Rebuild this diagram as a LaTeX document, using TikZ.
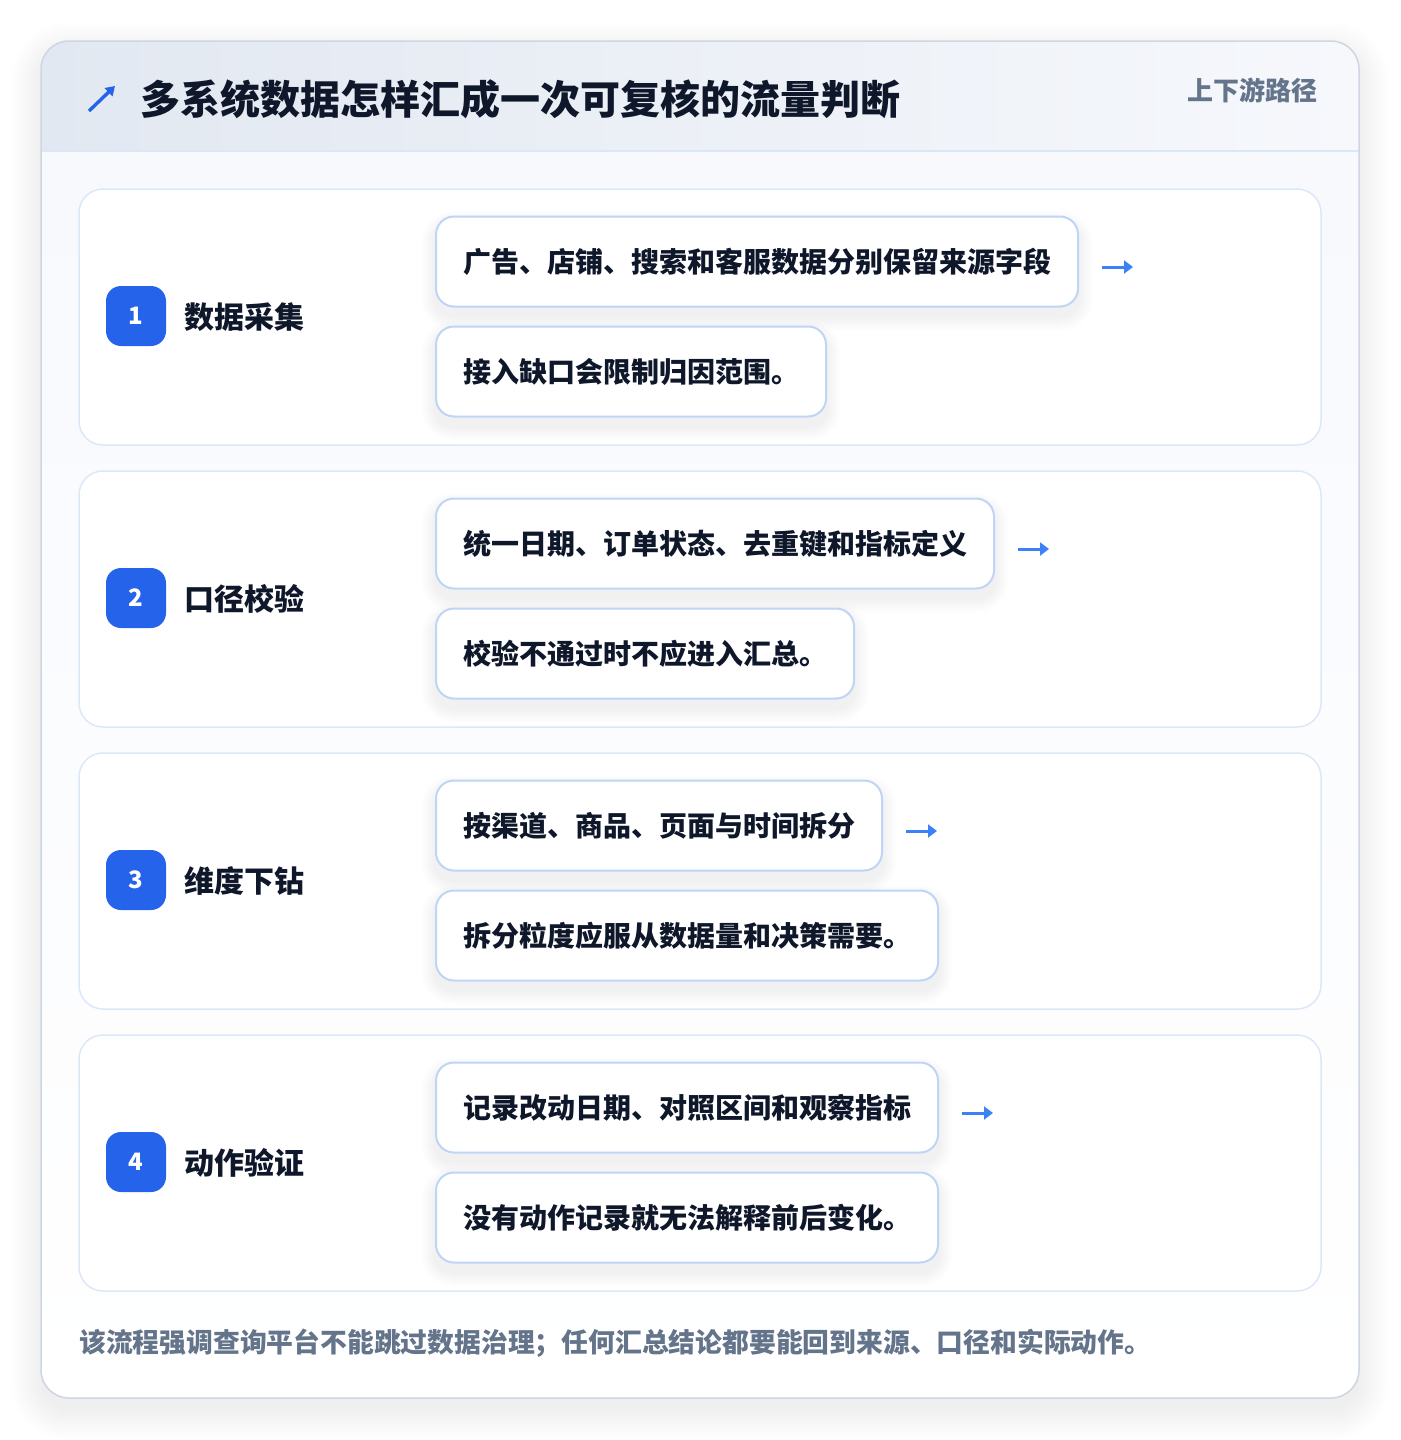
\documentclass[tikz,border=0pt]{standalone}
\usepackage{fontspec}
\setmainfont{Noto Sans CJK SC}
\usetikzlibrary{arrows.meta}
\definecolor{ink}{HTML}{0F172A}
\definecolor{muted}{HTML}{64748B}
\definecolor{accent}{HTML}{2563EB}
\definecolor{flowblue}{HTML}{3B82F6}
\definecolor{cardborder}{HTML}{CDD6E2}
\definecolor{hdrL}{HTML}{E2E8F1}
\definecolor{hdrR}{HTML}{F6F8FC}
\definecolor{hdrline}{HTML}{DBE7F7}
\definecolor{bgtop}{HTML}{F7F9FD}
\definecolor{rowborder}{HTML}{DCE8F8}
\definecolor{pillborder}{HTML}{BFD5F5}
\definecolor{shadowc}{HTML}{1E293B}
\pgfdeclarelayer{back}
\pgfdeclarelayer{rows}
\pgfdeclarelayer{pshadow}
\pgfsetlayers{back,rows,pshadow,main}
\tikzset{
  rowcard/.style={draw=rowborder, line width=1.5pt, fill=white, rounded corners=24pt,
    minimum width=1242pt, minimum height=256pt, inner sep=0pt},
  badge/.style={fill=accent, rounded corners=15pt, minimum size=60pt, inner sep=0pt,
    text=white, font=\fontsize{24}{28}\selectfont\bfseries},
  steplabel/.style={anchor=west, inner sep=0pt, text=ink, font=\fontsize{30}{36}\selectfont\bfseries},
  pill/.style={anchor=west, draw=pillborder, line width=2pt, fill=white, rounded corners=18pt,
    minimum height=90pt, inner xsep=27pt, inner ysep=0pt, text=ink,
    font=\fontsize{28}{34}\selectfont\bfseries},
  flowarrow/.style={flowblue, line width=3pt, -{Triangle[length=9pt,width=13pt]}},
}
\newcommand\pillshadow[1]{%
  \begin{pgfonlayer}{pshadow}
  \foreach \k in {1,...,14} {
    \fill[shadowc, opacity=0.005, rounded corners={18pt+1pt*\k}]
      ([shift={(-\k,\k+9)}]#1.south west) rectangle ([shift={(\k,-\k+9)}]#1.north east);
  }
  \end{pgfonlayer}}
\newcommand\steprow[5]{%
  \begin{pgfonlayer}{rows}
  \node[rowcard] (row#1) at (700,#2+128) {};
  \end{pgfonlayer}
  \node[badge] (badge#1) at (136,#2+127) {\raisebox{-2pt}{#1}};
  \node[steplabel] (label#1) at (184,#2+128) {#3};
  \node[pill] (pa#1) at (435,#2+72.5) {#4};
  \node[pill] (pb#1) at (435,#2+182.5) {#5};
  \pillshadow{pa#1}
  \pillshadow{pb#1}
  \coordinate (arr#1) at ([xshift=23pt,yshift=-5.5pt]pa#1.east);
  \draw[flowarrow] (arr#1) -- ++(31,0);
}
\begin{document}
\begin{tikzpicture}[x=1pt,y=-1pt]
\useasboundingbox (0,0) rectangle (1400,1440);
\begin{pgfonlayer}{back}
\fill[white] (0,0) rectangle (1400,1440);
% outer card shadow
\foreach \i in {0,...,15} {
  \fill[shadowc, opacity=0.005, rounded corners={28pt+2pt*\i}]
    ({41-2*\i},{53-2*\i}) rectangle ({1359+2*\i},{1410+2*\i});
}
% card body and header
\begin{scope}
\clip[rounded corners=28pt] (41,41) rectangle (1359,1398);
\fill[white] (41,41) rectangle (1359,1398);
\fill[top color=bgtop, bottom color=white] (41,151) rectangle (1359,1398);
\fill[left color=hdrL, right color=hdrR] (41,41) rectangle (1359,151);
\draw[hdrline, line width=1.5pt] (41,151) -- (1359,151);
\end{scope}
\draw[cardborder, line width=1.5pt, rounded corners=28pt] (41,41) rectangle (1359,1398);
\end{pgfonlayer}
% header
\coordinate (ta1) at (89,111);
\coordinate (ta2) at (115,86);
\draw[accent, line width=3.4pt, -{Triangle[length=9pt,width=11pt]}] (ta1) -- (ta2);
\node[anchor=west, inner sep=0pt, text=ink, font=\fontsize{40}{48}\selectfont\bfseries] (title) at (140,99)
  {多系统数据怎样汇成一次可复核的流量判断};
\node[anchor=east, inner sep=0pt, text=muted, font=\fontsize{26}{32}\selectfont\bfseries] (sub) at (1318,90)
  {上下游路径};
% rows
\steprow{1}{189}{数据采集}{广告、店铺、搜索和客服数据分别保留来源字段}{接入缺口会限制归因范围。}
\steprow{2}{471}{口径校验}{统一日期、订单状态、去重键和指标定义}{校验不通过时不应进入汇总。}
\steprow{3}{753}{维度下钻}{按渠道、商品、页面与时间拆分}{拆分粒度应服从数据量和决策需要。}
\steprow{4}{1035}{动作验证}{记录改动日期、对照区间和观察指标}{没有动作记录就无法解释前后变化。}
% footer
\node[anchor=west, inner sep=0pt, text=muted, font=\fontsize{26.8}{32}\selectfont\bfseries] (foot) at (79,1343)
  {该流程强调查询平台不能跳过数据治理；任何汇总结论都要能回到来源、口径和实际动作。};
\end{tikzpicture}
\end{document}
